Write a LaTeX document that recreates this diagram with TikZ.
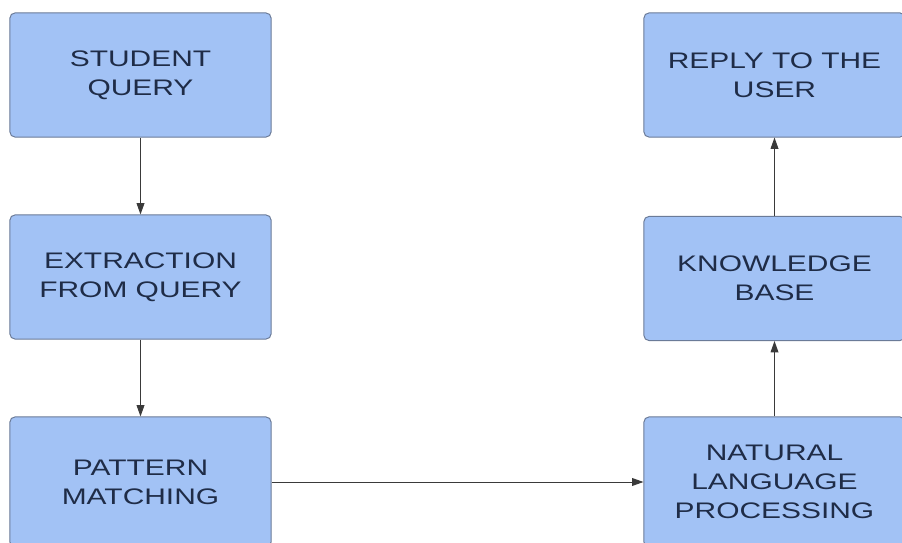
\documentclass[tikz,border=0pt]{standalone}
\usepackage{fontspec}
\setmainfont{Liberation Sans}[FakeStretch=1.33]
\usetikzlibrary{arrows.meta}
\definecolor{stepfill}{HTML}{A2C2F5}
\definecolor{stepedge}{HTML}{6B7B98}
\definecolor{steptext}{HTML}{1F2C47}
\definecolor{flowline}{HTML}{3A3A3A}
\tikzstyle{stage}=[draw=stepedge, fill=stepfill, line width=0.7pt, rounded corners=3.5pt, minimum width=6.525cm, minimum height=3.1cm, text=steptext, align=center, font=\fontsize{16}{20.6}\selectfont]
\tikzstyle{tall stage}=[stage, minimum height=3.25cm]
\tikzstyle{flow}=[draw=flowline, line width=0.7pt, -{Triangle[length=8pt, width=5.5pt]}]

\begin{document}
\begin{tikzpicture}[x=0.025cm, y=-0.025cm]
      \clip (0, 0) rectangle (902, 543);
      \fill[white] (0, 0) rectangle (902, 543);

      \node[stage] (student_query) at (140.5, 75) {STUDENT\\QUERY};
      \node[stage] (extraction) at (140.5, 277) {EXTRACTION\\FROM QUERY};
      \node[tall stage] (pattern) at (140.5, 482) {PATTERN\\MATCHING};

      \node[tall stage] (nlp) at (774.5, 482) {NATURAL\\LANGUAGE\\PROCESSING};
      \node[stage] (knowledge) at (774.5, 278.5) {KNOWLEDGE\\BASE};
      \node[stage] (reply) at (774.5, 75) {REPLY TO THE\\USER};

      \draw[flow] (student_query) to (extraction);
      \draw[flow] (extraction) to (pattern);
      \draw[flow] (pattern) to (nlp);
      \draw[flow] (nlp) to (knowledge);
      \draw[flow] (knowledge) to (reply);
    \end{tikzpicture}
\end{document}
